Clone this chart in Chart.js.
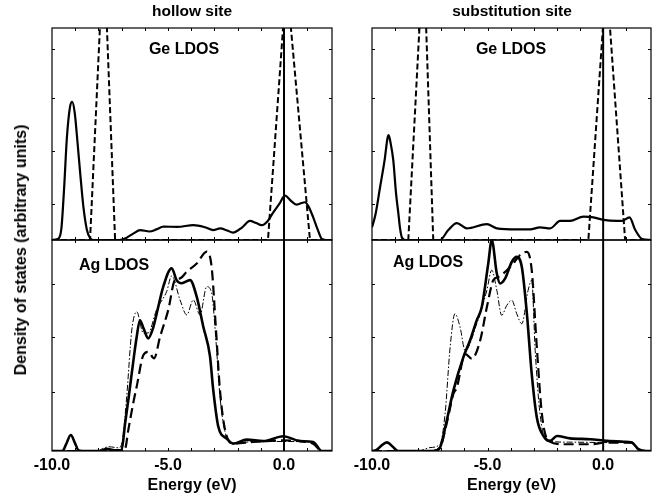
<!DOCTYPE html>
<html>
<head>
<meta charset="utf-8">
<script src="https://cdn.jsdelivr.net/npm/chart.js@4.4.0/dist/chart.umd.min.js"></script>
<style>
  body { margin: 0; background: #fff; }
  #wrap { position: relative; width: 656px; height: 497px; overflow: hidden;
          font-family: "Liberation Sans", Arial, sans-serif; font-weight: bold; color: #000; }
  #wrap canvas { position: absolute; }
  .lbl { position: absolute; white-space: nowrap; transform: translate(-50%, -50%); font-size: 16px; }
</style>
</head>
<body>
<div id="wrap">
  <canvas id="lt" width="340" height="242" style="left:0;top:0"></canvas>
  <canvas id="lb" width="340" height="259" style="left:0;top:238px"></canvas>
  <canvas id="rt" width="316" height="242" style="left:340px;top:0"></canvas>
  <canvas id="rb" width="316" height="259" style="left:340px;top:238px"></canvas>

  <div class="lbl" style="left:192px;top:11px;font-size:15.5px">hollow site</div>
  <div class="lbl" style="left:512px;top:11px;font-size:15.5px">substitution site</div>
  <div class="lbl" style="left:184px;top:49px">Ge LDOS</div>
  <div class="lbl" style="left:511px;top:49px">Ge LDOS</div>
  <div class="lbl" style="left:114px;top:265px">Ag LDOS</div>
  <div class="lbl" style="left:428px;top:262px">Ag LDOS</div>
  <div class="lbl" style="left:21px;top:250px;transform:translate(-50%,-50%) rotate(-90deg)">Density of states (arbitrary units)</div>
</div>

<script>
// energy range (eV) and Fermi level
const eMin = -10, eMax = 2.07;
const fermiLevel = 0;
const xMinorTicks = [-9, -8, -7, -6, -5, -4, -3, -2, -1, 0, 1];
const geTicks = [1.7, 4.2, 6.7, 9.0];
const agTicks = [2.8, 5.4, 7.9];

// hollow site, Ge LDOS  [energy, dos]
const hollowGeSolid = [[-10,0],[-9.75,0.05],[-9.6,0.5],[-9.48,2.4],[-9.36,4.8],[-9.22,6.3],[-9.13,6.52],[-9.02,6.0],[-8.9,4.6],[-8.78,3.1],[-8.65,1.6],[-8.5,0.5],[-8.35,0.08],[-8.2,0],[-7.1,0],[-6.8,0.1],[-6.5,0.3],[-6.2,0.47],[-5.8,0.4],[-5.5,0.5],[-5.2,0.63],[-4.6,0.62],[-3.9,0.7],[-3.4,0.6],[-3.05,0.47],[-2.75,0.55],[-2.45,0.45],[-2.2,0.35],[-1.8,0.6],[-1.47,0.9],[-1.2,0.8],[-0.96,0.7],[-0.7,0.9],[-0.46,1.3],[-0.2,1.7],[0.04,2.1],[0.3,1.85],[0.54,1.67],[0.7,1.72],[0.9,1.78],[1.05,1.6],[1.26,1.07],[1.45,0.5],[1.63,0.05],[1.8,0],[2.07,0]];
const hollowGeDashed = [[-10,0],[-8.36,0],[-7.77,13.9],[-7.28,0],[-0.69,0],[0.11,12.3],[1.12,0],[2.07,0]];

// hollow site, Ag LDOS
const hollowAgSolid = [[-10,0],[-9.55,0],[-9.4,0.3],[-9.19,0.76],[-9.0,0.35],[-8.85,0.02],[-8.7,0],[-7.9,0],[-7.65,0.1],[-7.3,0.03],[-7.0,0.05],[-6.85,1.3],[-6.7,2.5],[-6.56,3.7],[-6.35,5.4],[-6.21,6.2],[-6.05,5.8],[-5.85,5.34],[-5.65,5.8],[-5.49,6.5],[-5.2,7.8],[-4.84,8.66],[-4.63,8.1],[-4.41,7.95],[-4.05,8.1],[-3.76,7.3],[-3.48,5.9],[-3.19,4.5],[-3.05,2.9],[-2.83,1.15],[-2.47,0.59],[-2.19,0.35],[-1.61,0.54],[-0.89,0.47],[-0.03,0.7],[0.69,0.47],[1.26,0.43],[1.63,0],[2.07,0]];
const hollowAgDashed = [[-10,0],[-7.1,0],[-6.85,0.1],[-6.71,1.0],[-6.5,2.26],[-6.35,3.05],[-6.06,4.55],[-5.85,4.7],[-5.6,4.39],[-5.34,5.42],[-4.99,6.68],[-4.7,8.1],[-4.48,8.18],[-4.19,8.5],[-3.76,8.89],[-3.33,9.45],[-3.12,8.73],[-2.93,5.73],[-2.76,2.89],[-2.54,1.0],[-2.19,0.35],[-1.32,0.43],[-0.03,0.5],[1.25,0.35],[1.63,0],[2.07,0]];
const hollowAgThin = [[-10,0],[-8.0,0],[-7.93,0.05],[-7.55,0.2],[-7.1,0.15],[-6.95,0.6],[-6.78,2.57],[-6.56,5.73],[-6.35,6.6],[-6.06,5.58],[-5.85,5.6],[-5.49,6.7],[-5.06,7.55],[-4.84,8.3],[-4.48,7.16],[-4.19,6.45],[-3.91,7.16],[-3.62,6.45],[-3.33,7.79],[-3.12,7.5],[-2.93,5.2],[-2.76,2.6],[-2.54,0.9],[-2.19,0.35],[-1.3,0.45],[0,0.45],[1.25,0.4],[1.63,0],[2.07,0]];

// substitution site, Ge LDOS
const subGeSolid = [[-10,0.6],[-9.85,1.2],[-9.65,2.5],[-9.45,3.8],[-9.33,4.8],[-9.28,4.95],[-9.2,4.6],[-9.08,3.77],[-8.96,2.2],[-8.86,1.26],[-8.78,0.5],[-8.7,0.1],[-8.55,0],[-7.06,0],[-6.7,0.47],[-6.33,0.8],[-5.9,0.55],[-5.03,0.75],[-4.6,0.55],[-3.74,0.5],[-3.16,0.5],[-2.73,0.6],[-2.29,0.55],[-1.86,0.9],[-1.43,0.9],[-0.85,1.1],[-0.42,1.07],[0.01,0.95],[0.59,0.9],[0.81,0.9],[1.14,1.07],[1.39,0.47],[1.68,0.05],[2.07,0]];
const subGeDashed = [[-10,0],[-8.43,0],[-7.77,13.7],[-7.35,0],[-0.64,0],[0.14,12.4],[0.95,0],[2.07,0]];

// substitution site, Ag LDOS
const subAgSolid = [[-10,0],[-9.8,0.05],[-9.6,0.25],[-9.36,0.41],[-9.1,0.2],[-8.92,0.02],[-8.8,0],[-7.35,0],[-7.06,0.16],[-6.77,1.43],[-6.48,2.86],[-6.05,4.44],[-5.76,5.24],[-5.47,6.19],[-5.25,6.82],[-4.97,8.89],[-4.82,10.0],[-4.6,8.41],[-4.46,7.94],[-4.24,8.18],[-3.95,8.97],[-3.74,9.2],[-3.52,8.73],[-3.3,6.51],[-3.09,3.65],[-2.87,1.59],[-2.58,0.71],[-2.29,0.48],[-2.0,0.71],[-1.43,0.6],[-0.56,0.56],[0.16,0.48],[0.88,0.44],[1.24,0.4],[1.53,0.08],[1.89,0],[2.07,0]];
const subAgDashed = [[-10,0],[-7.35,0],[-7.06,0.15],[-6.77,1.3],[-6.48,2.7],[-6.33,3.01],[-5.97,4.6],[-5.68,4.37],[-5.32,5.24],[-5.03,6.82],[-4.75,8.1],[-4.53,8.25],[-4.32,8.41],[-3.95,8.81],[-3.59,9.29],[-3.3,9.44],[-3.09,8.57],[-2.87,4.92],[-2.65,1.75],[-2.37,0.48],[-1.72,0.32],[-0.56,0.32],[0.16,0.4],[1.24,0.4],[1.53,0.08],[1.89,0],[2.07,0]];
const subAgThin = [[-10,0],[-8.0,0],[-7.49,0.16],[-7.06,0.32],[-6.84,1.75],[-6.62,4.92],[-6.41,6.51],[-6.19,5.87],[-5.97,4.76],[-5.47,6.03],[-5.03,7.62],[-4.82,8.57],[-4.6,7.62],[-4.39,6.43],[-4.17,6.9],[-3.95,7.14],[-3.74,6.51],[-3.52,6.03],[-3.25,7.6],[-3.09,8.1],[-2.94,4.76],[-2.73,1.75],[-2.44,0.48],[-1.5,0.42],[0.2,0.4],[1.24,0.4],[1.53,0.08],[1.89,0],[2.07,0]];

Chart.defaults.font.family = "'Liberation Sans', Arial, sans-serif";
Chart.defaults.color = '#000';

function pts(arr) {
  return arr.map(p => ({ x: p[0], y: p[1] }));
}

function line(arr, width, dash, smooth) {
  return {
    data: pts(arr),
    borderColor: '#000',
    borderWidth: width,
    borderDash: dash || [],
    pointRadius: 0,
    tension: 0,
    cubicInterpolationMode: smooth ? 'monotone' : 'default',
    fill: false
  };
}

function fermi() {
  return line([[fermiLevel, 0], [fermiLevel, 10]], 2, [], false);
}

// box round the plot area plus small inward ticks
function frame(yTicks) {
  return {
    id: 'frame',
    afterDatasetsDraw(chart) {
      const ctx = chart.ctx, a = chart.chartArea;
      const x = chart.scales.x, y = chart.scales.y;
      ctx.save();
      ctx.strokeStyle = '#000';
      ctx.lineWidth = 1.2;
      ctx.strokeRect(a.left, a.top, a.right - a.left, a.bottom - a.top);
      ctx.lineWidth = 1;
      ctx.beginPath();
      xMinorTicks.forEach(v => {
        const px = Math.round(x.getPixelForValue(v)) + 0.5;
        ctx.moveTo(px, a.bottom); ctx.lineTo(px, a.bottom - 3);
        ctx.moveTo(px, a.top); ctx.lineTo(px, a.top + 3);
      });
      yTicks.forEach(v => {
        const py = Math.round(y.getPixelForValue(v)) + 0.5;
        ctx.moveTo(a.left, py); ctx.lineTo(a.left + 3, py);
        ctx.moveTo(a.right, py); ctx.lineTo(a.right - 3, py);
      });
      ctx.stroke();
      ctx.restore();
    }
  };
}

function makeChart(id, datasets, bottom, pad, yTicks) {
  const xScale = { type: 'linear', min: eMin, max: eMax, display: false };
  if (bottom) {
    Object.assign(xScale, {
      display: true,
      grid: { display: false, drawTicks: false },
      border: { display: false },
      ticks: {
        stepSize: 1, autoSkip: false, maxRotation: 0, padding: 5,
        font: { size: 16, weight: 'bold' },
        callback: v => (Math.abs(v % 5) < 1e-9 ? v.toFixed(1) : '')
      },
      title: {
        display: true, text: 'Energy (eV)',
        font: { size: 16, weight: 'bold' },
        padding: { top: 0, bottom: 2 }
      },
      afterFit: s => { s.height = 46; }
    });
  }
  return new Chart(document.getElementById(id), {
    type: 'line',
    data: { datasets: datasets },
    options: {
      responsive: false,
      animation: false,
      layout: { padding: pad },
      plugins: { legend: { display: false }, tooltip: { enabled: false } },
      scales: {
        x: xScale,
        y: { type: 'linear', min: 0, max: 10, display: false }
      }
    },
    plugins: [frame(yTicks)]
  });
}

const padLT = { left: 52, top: 28, right: 8, bottom: 2 };
const padLB = { left: 52, top: 2, right: 8, bottom: 0 };
const padRT = { left: 32, top: 28, right: 5, bottom: 2 };
const padRB = { left: 32, top: 2, right: 5, bottom: 0 };

makeChart('lt', [
  line(hollowGeSolid, 2.2, [], true),
  line(hollowGeDashed, 2, [6, 3], false),
  fermi()
], false, padLT, geTicks);

makeChart('lb', [
  line(hollowAgThin, 1, [6, 2, 1.5, 2], true),
  line(hollowAgDashed, 2.2, [10, 5], true),
  line(hollowAgSolid, 2.6, [], true),
  fermi()
], true, padLB, agTicks);

makeChart('rt', [
  line(subGeSolid, 2.2, [], true),
  line(subGeDashed, 2, [6, 3], false),
  fermi()
], false, padRT, geTicks);

makeChart('rb', [
  line(subAgThin, 1, [6, 2, 1.5, 2], true),
  line(subAgDashed, 2.2, [10, 5], true),
  line(subAgSolid, 2.6, [], true),
  fermi()
], true, padRB, agTicks);
</script>
</body>
</html>
